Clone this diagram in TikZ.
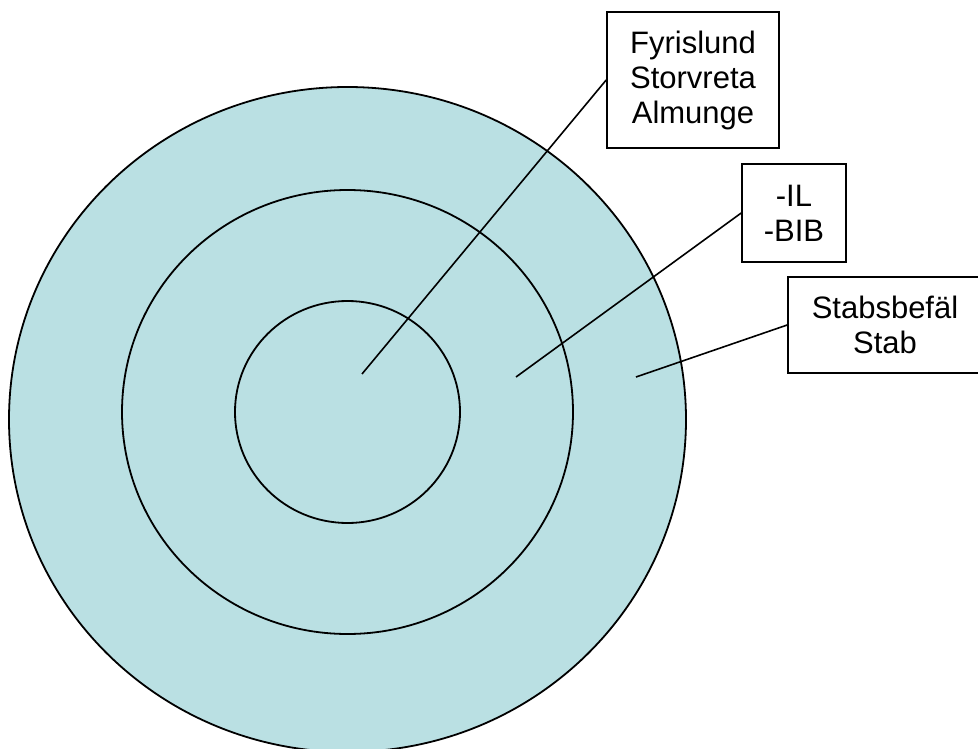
\documentclass[tikz,border=0pt]{standalone}
\usepackage{fontspec}
\setmainfont{Liberation Sans}
\definecolor{ringfill}{RGB}{186,224,227}
\begin{document}
\begin{tikzpicture}[x=1pt,y=-1pt,
  ring/.style={draw=black,line width=1.8pt},
  lead/.style={draw=black,line width=1.6pt},
  labelbox/.style={draw=black,line width=1.6pt,fill=white,align=center,inner sep=0pt,
    font=\fontsize{31}{35}\selectfont}]
\useasboundingbox (0,0) rectangle (978,749);
% concentric rings
\fill[ringfill] (347.5,419.5) ellipse [x radius=338.5pt, y radius=332.5pt];
\draw[ring] (347.5,419.5) ellipse [x radius=338.5pt, y radius=332.5pt];
\draw[ring] (347.5,412) ellipse [x radius=225.5pt, y radius=222pt];
\draw[ring] (347.5,412) ellipse [x radius=112.5pt, y radius=111pt];
% anchor points inside the rings
\coordinate (p1) at (362,374);
\coordinate (p2) at (516,377);
\coordinate (p3) at (636,377);
% label boxes
\node[labelbox,minimum width=172pt,minimum height=136pt] (b1) at (693,80) {Fyrislund\\Storvreta\\Almunge};
\node[labelbox,minimum width=104pt,minimum height=98pt] (b2) at (794,213) {-IL\\-BIB};
\node[labelbox,minimum width=194pt,minimum height=96pt] (b3) at (885,325) {Stabsbefäl\\Stab};
% leader lines
\draw[lead] (p1) -- (b1.west);
\draw[lead] (p2) -- (b2.west);
\draw[lead] (p3) -- (b3.west);
\end{tikzpicture}
\end{document}
